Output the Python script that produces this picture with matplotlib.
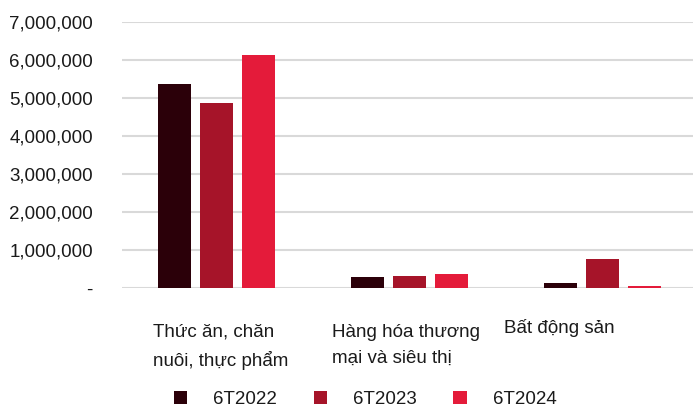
import matplotlib
matplotlib.use("Agg")
import matplotlib.pyplot as plt
from matplotlib import font_manager
from matplotlib.ticker import FuncFormatter

# pick a narrow sans if one is installed
names = {f.name for f in font_manager.fontManager.ttflist}
for fam in ["Liberation Sans Narrow", "DejaVu Sans Condensed", "Liberation Sans"]:
    if fam in names:
        plt.rcParams["font.family"] = [fam, "DejaVu Sans"]
        break

categories = ["Thức ăn, chăn\nnuôi, thực phẩm", "Hàng hóa thương\nmại và siêu thị", "Bất động sản"]
series = ["6T2022", "6T2023", "6T2024"]
v2022 = [5370000, 280000, 130000]
v2023 = [4870000, 310000, 760000]
v2024 = [6130000, 360000, 40000]
colors = ["#2B0009", "#A61429", "#E41B3A"]

fs = 13.5
fig = plt.figure(figsize=(6.93, 4.11), dpi=100)
ax = fig.add_axes([0.176, 0.2993, 0.824, 0.6472])

width = 0.171
pitch = 0.218
for i, (vals, c) in enumerate(zip([v2022, v2023, v2024], colors)):
    xs = [k + (i - 1) * pitch for k in range(len(categories))]
    ax.bar(xs, vals, width=width, color=c, label=series[i], zorder=3)

ax.set_xlim(-0.49, 2.47)
ax.set_ylim(0, 7000000)
ax.set_yticks(range(0, 7000001, 1000000))
ax.yaxis.set_major_formatter(FuncFormatter(lambda v, p: "-" if v == 0 else f"{int(v):,}"))
ax.tick_params(axis="y", length=0, pad=21, labelsize=fs, colors="#1a1a1a")
ax.tick_params(axis="x", length=0, labelbottom=False)
ax.grid(axis="y", color="#D9D9D9", linewidth=1.5, zorder=0)
for s in ax.spines.values():
    s.set_visible(False)

# category labels, left aligned below each group
label_x = [-0.33, 0.60, 1.49]
label_y = [-0.135, -0.135, -0.115]
for x, y, t in zip(label_x, label_y, categories):
    ax.text(x, y, t, transform=ax.get_xaxis_transform(), ha="left", va="top",
            fontsize=fs, color="#1a1a1a", linespacing=1.65)

leg = fig.legend(loc="center", bbox_to_anchor=(0.527, 0.027), ncol=3, frameon=False,
                 fontsize=fs, handlelength=0.7, handleheight=0.7,
                 columnspacing=1.95, handletextpad=1.4)
for t in leg.get_texts():
    t.set_color("#1a1a1a")

fig.savefig("out.png", dpi=100)
